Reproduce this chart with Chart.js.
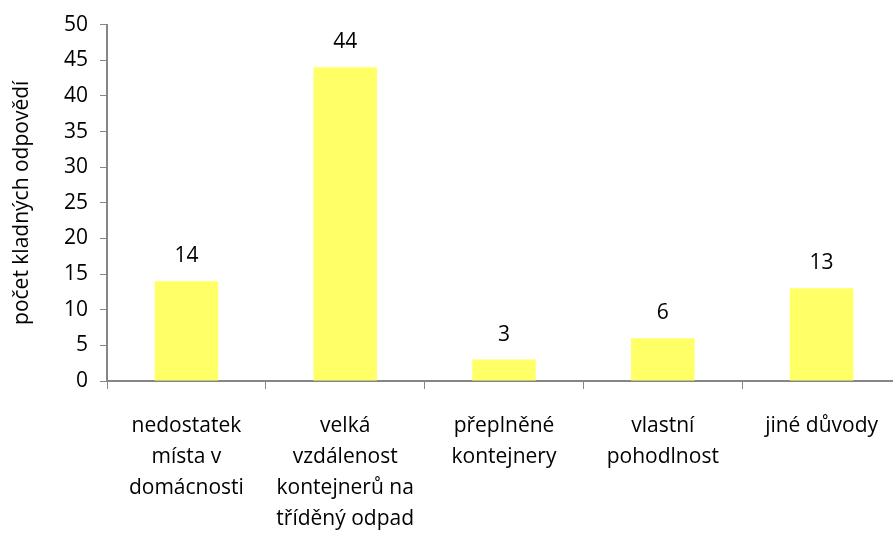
<!DOCTYPE html>
<html>
<head>
<meta charset="utf-8">
<script src="https://cdn.jsdelivr.net/npm/chart.js@4.4.1/dist/chart.umd.min.js"></script>
<style>
    html, body { margin: 0; padding: 0; background: #fff; overflow: hidden; }
    #wrap { width: 901px; height: 536px; }
</style>
</head>
<body>
<div id="wrap"><canvas id="chart"></canvas></div>
<script>
// data
const categories = [
    ['nedostatek', 'místa v', 'domácnosti'],
    ['velká', 'vzdálenost', 'kontejnerů na', 'tříděný odpad'],
    ['přeplněné', 'kontejnery'],
    ['vlastní', 'pohodlnost'],
    ['jiné důvody']
];
const answers = [14, 44, 3, 6, 13];
const yTicks = [0, 5, 10, 15, 20, 25, 30, 35, 40, 45, 50];
const yTitle = 'počet kladných odpovědí';

const FONT = 'Open Sans, Noto Sans, sans-serif';
const SIZE = 21;
const AXIS = '#868686';

// value labels above bars
const valueLabels = {
    id: 'valueLabels',
    afterDatasetsDraw(chart) {
        const ctx = chart.ctx;
        const meta = chart.getDatasetMeta(0);
        ctx.save();
        ctx.font = SIZE + 'px ' + FONT;
        ctx.fillStyle = '#000';
        ctx.textAlign = 'center';
        ctx.textBaseline = 'middle';
        meta.data.forEach((bar, i) => {
            ctx.fillText(answers[i], bar.x, bar.y - 25);
        });
        ctx.restore();
    }
};

new Chart(document.getElementById('chart'), {
    type: 'bar',
    data: {
        labels: categories,
        datasets: [{
            data: answers,
            backgroundColor: '#ffff66',
            borderWidth: 0,
            barPercentage: 0.4,
            categoryPercentage: 1
        }]
    },
    options: {
        responsive: true,
        maintainAspectRatio: false,
        animation: false,
        layout: { padding: { top: 21, right: 0, left: 0, bottom: 0 } },
        plugins: { legend: { display: false }, tooltip: { enabled: false } },
        scales: {
            x: {
                grid: { display: true, drawOnChartArea: false, drawTicks: true, tickLength: 8, color: AXIS, lineWidth: 1 },
                border: { color: AXIS, width: 2 },
                ticks: { color: '#000', font: { family: FONT, size: SIZE, lineHeight: '31px' }, padding: 22, maxRotation: 0, autoSkip: false },
                afterFit(scale) { scale.height = 155; }
            },
            y: {
                min: 0,
                max: 50,
                afterBuildTicks(scale) { scale.ticks = yTicks.map(v => ({ value: v })); },
                grid: { display: true, drawOnChartArea: false, drawTicks: true, tickLength: 7, color: AXIS },
                border: { color: AXIS, width: 2 },
                ticks: { color: '#000', font: { family: FONT, size: SIZE }, padding: 12 },
                title: { display: true, text: yTitle, color: '#000', font: { family: FONT, size: SIZE }, padding: { top: 9, bottom: 0 } },
                afterFit(scale) { scale.width = 107; }
            }
        }
    },
    plugins: [valueLabels]
});
</script>
</body>
</html>
